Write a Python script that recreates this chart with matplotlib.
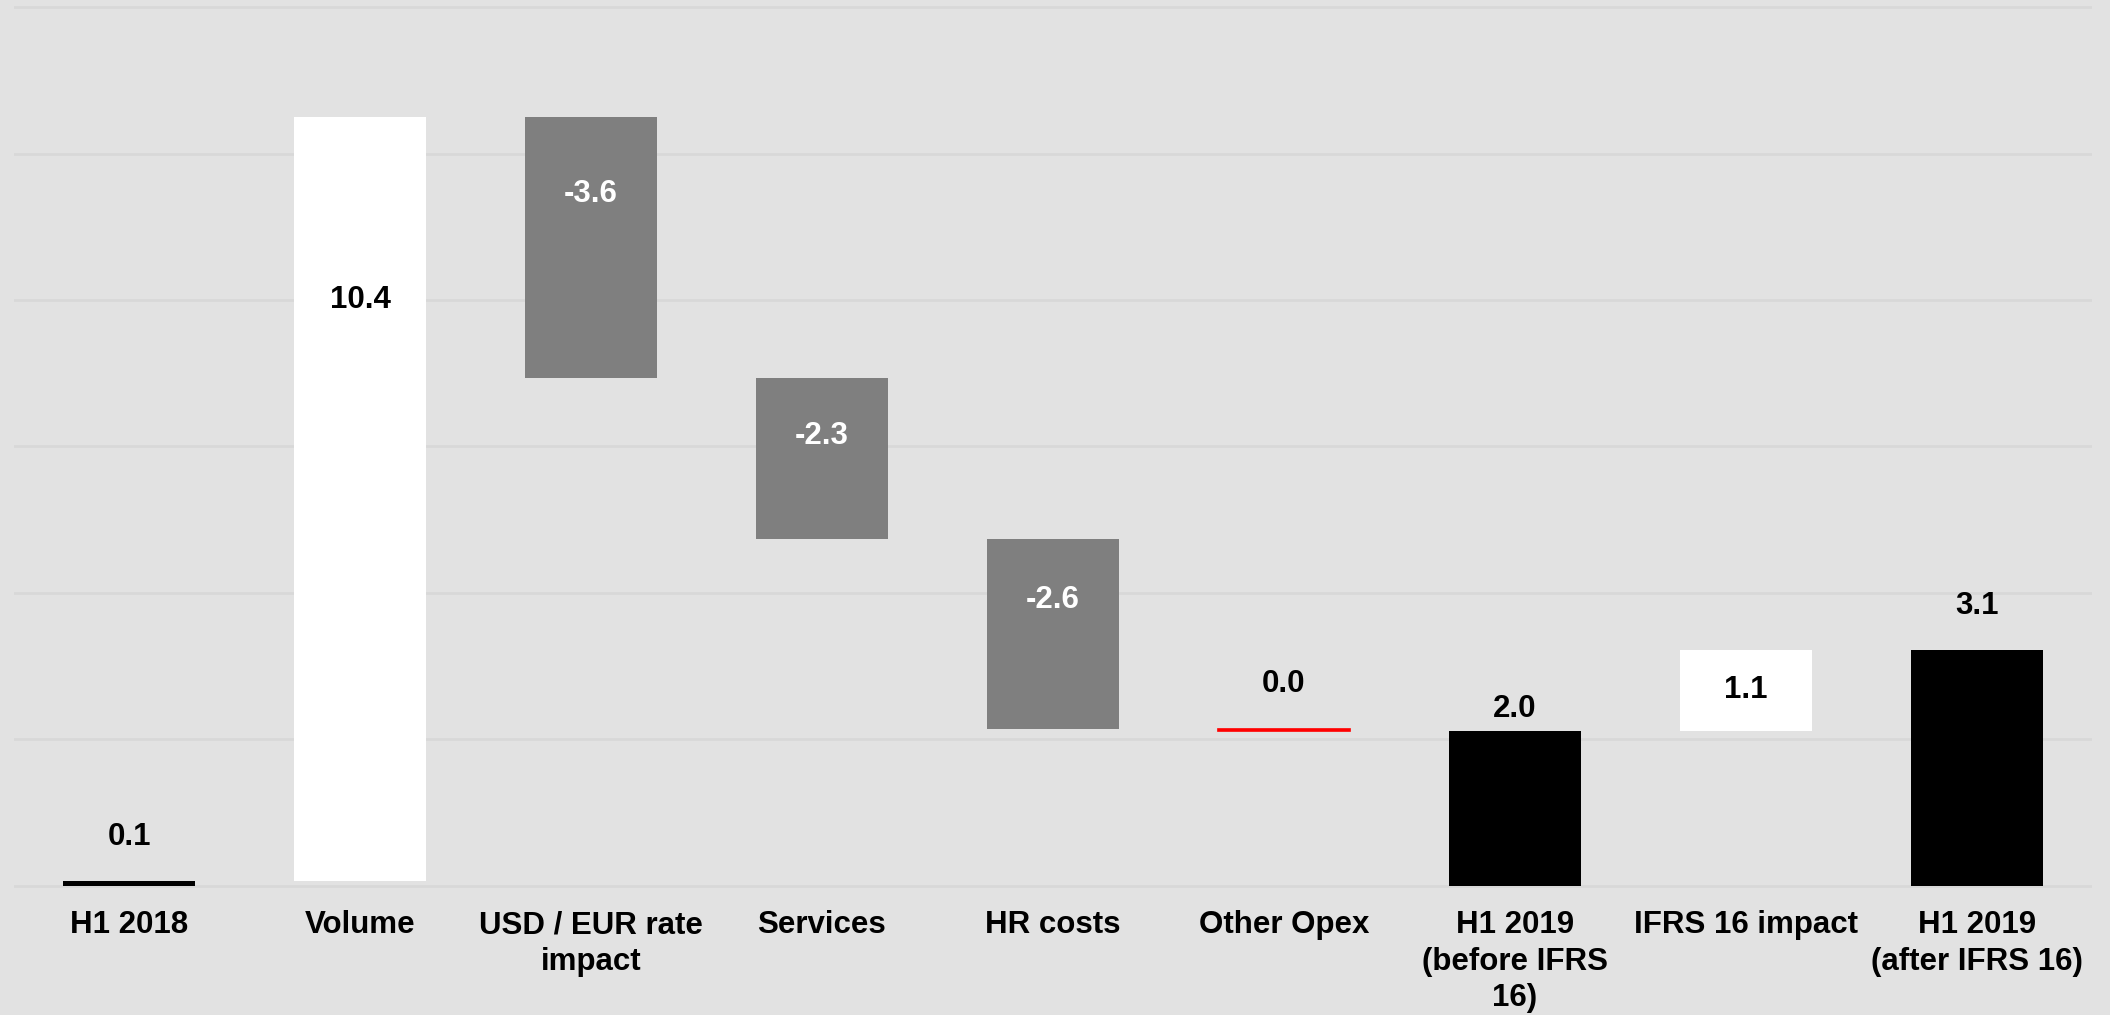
import matplotlib.pyplot as plt
import numpy as np

# categories and values
categories = ['H1 2018', 'Volume', 'USD / EUR rate\nimpact', 'Services', 'HR costs',
              'Other Opex', 'H1 2019\n(before IFRS\n16)', 'IFRS 16 impact', 'H1 2019\n(after IFRS 16)']
values = [0.07, 10.43, -3.57, -2.19, -2.60, -0.02, 2.12, 1.10, 3.22]
is_total = [True, False, False, False, False, False, True, False, True]
value_labels = ['0.1', '10.4', '-3.6', '-2.3', '-2.6', '0.0', '2.0', '1.1', '3.1']

# styling
bar_colors = ['black', 'white', '#7f7f7f', '#7f7f7f', '#7f7f7f', 'red', 'black', 'white', 'black']
text_colors = ['black', 'black', 'white', 'white', 'white', 'black', 'black', 'black', 'black']
label_y = [0.67, 8.00, 9.45, 6.14, 3.90, 2.76, 2.41, 2.68, 3.82]

plt.rcParams['font.family'] = ['Liberation Sans', 'DejaVu Sans']
plt.rcParams['font.weight'] = 'bold'

# waterfall bottoms
bottoms = []
heights = []
running = 0
for v, tot in zip(values, is_total):
    if tot:
        bottoms.append(0)
        heights.append(v)
        running = v
    else:
        bottoms.append(running)
        heights.append(v)
        running += v

fig = plt.figure(figsize=(21.1, 10.15), dpi=100)
fig.patch.set_facecolor('#e2e2e2')
ax = fig.add_axes([0.0064, 0.1235, 0.9853, 0.8732])
ax.set_facecolor('#e2e2e2')

x = np.arange(len(categories))
ax.bar(x, heights, bottom=bottoms, width=0.571, color=bar_colors, edgecolor=bar_colors,
       linewidth=[0, 0, 0, 0, 0, 1.2, 0, 0, 0], zorder=3)

for i in range(len(categories)):
    ax.text(x[i], label_y[i], value_labels[i], ha='center', va='center', fontsize=22.5,
            fontweight='bold', color=text_colors[i], zorder=4)

ax.set_xlim(-0.5, 8.5)
ax.set_ylim(-0.05, 12.05)
ax.set_yticks(np.arange(0, 13, 2))
ax.yaxis.grid(True, color='#d8d8d8', linewidth=2, zorder=0)
ax.set_axisbelow(True)
ax.tick_params(axis='y', left=False, labelleft=False)
ax.tick_params(axis='x', length=0, pad=15)
ax.set_xticks(x)
ax.set_xticklabels(categories, fontsize=22.5, fontweight='bold', linespacing=1.28)
for s in ax.spines.values():
    s.set_visible(False)

fig.savefig('out.png', dpi=100, facecolor=fig.get_facecolor())
